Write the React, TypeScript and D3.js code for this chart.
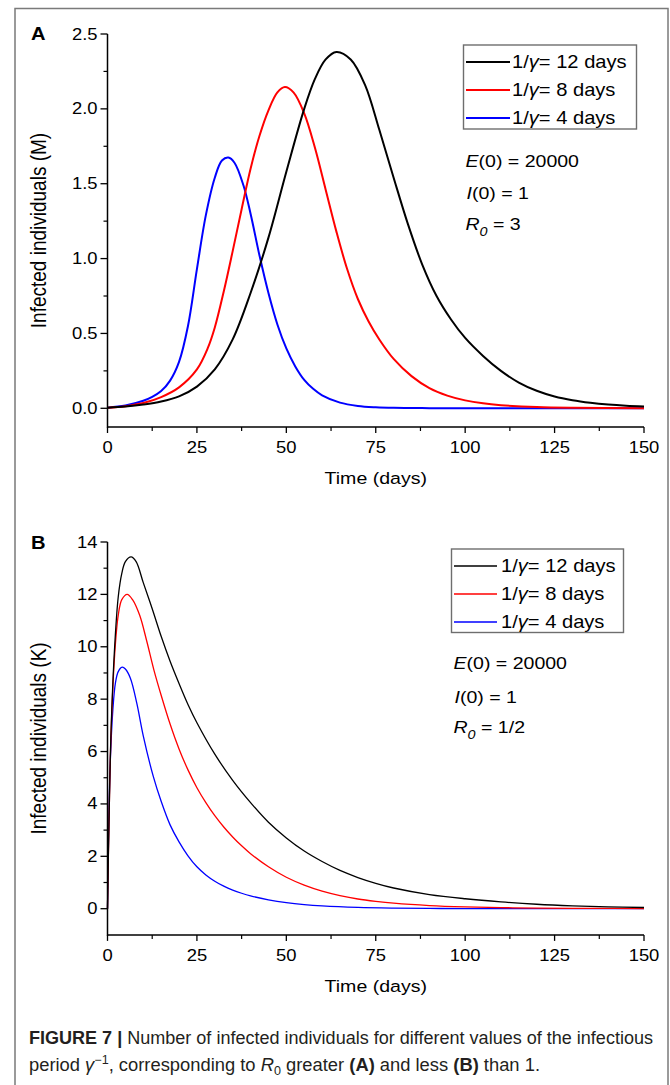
import React from 'react';
import * as d3 from 'd3';

// ---------- data ----------
const legendLabels = ['12', '8', '4'];
const seriesColors = ['#000000', '#ff0000', '#0000ff'];

const xTicks = [0, 25, 50, 75, 100, 125, 150];
const xMinor = [12.5, 37.5, 62.5, 87.5, 112.5, 137.5];
const yTicksA = [0, 0.5, 1.0, 1.5, 2.0, 2.5];
const yMinorA = [0.25, 0.75, 1.25, 1.75, 2.25];
const yTicksB = [0, 2, 4, 6, 8, 10, 12, 14];
const yMinorB = [1, 3, 5, 7, 9, 11, 13];

// Panel A, infected (millions), [day, value]
const a12: [number, number][] = [[0,0.004],[5,0.012],[10,0.025],[15,0.045],[20,0.08],[25,0.145],[30,0.26],[35,0.46],[40,0.77],[45,1.14],[50,1.58],[55,2.00],[58,2.20],[61,2.33],[64,2.38],[68,2.33],[72,2.16],[76,1.86],[80,1.54],[84,1.23],[88,0.96],[92,0.75],[96,0.595],[100,0.47],[105,0.35],[110,0.25],[115,0.172],[120,0.117],[125,0.079],[130,0.054],[135,0.037],[140,0.025],[145,0.017],[150,0.012]];
const a8: [number, number][] = [[0,0.004],[5,0.014],[10,0.035],[15,0.075],[20,0.14],[25,0.26],[28,0.40],[30,0.54],[32.5,0.78],[35,1.05],[37.5,1.33],[40,1.60],[42.5,1.82],[45,1.99],[47.5,2.11],[49.6,2.146],[52,2.11],[55,1.97],[58,1.74],[61,1.46],[64,1.18],[67,0.93],[70,0.73],[73,0.58],[76,0.46],[80,0.33],[85,0.215],[90,0.135],[95,0.085],[100,0.053],[105,0.033],[110,0.021],[120,0.008],[130,0.003],[150,0.0005]];
const a4: [number, number][] = [[0,0.004],[5,0.018],[10,0.05],[12.5,0.076],[15,0.115],[17.5,0.185],[20,0.31],[22.5,0.55],[25,0.93],[27.5,1.29],[30,1.54],[32,1.655],[33.8,1.675],[35.5,1.64],[38,1.49],[40,1.30],[42.5,1.02],[45,0.77],[47.5,0.56],[50,0.40],[52.5,0.28],[55,0.19],[57.5,0.13],[60,0.087],[65,0.038],[70,0.016],[75,0.007],[80,0.003],[90,0.001],[100,0.0003],[150,0]];

// Panel B, infected (thousands), [day, value]
const b12: [number, number][] = [[0,0],[0.4,3.2],[1,6.8],[2,10.0],[3,11.9],[4,12.8],[5,13.25],[6.6,13.43],[8,13.25],[10,12.45],[12.5,11.45],[15,10.4],[17.5,9.45],[20,8.6],[22.5,7.8],[25,7.1],[30,5.9],[35,4.9],[40,4.05],[45,3.3],[50,2.7],[55,2.2],[60,1.8],[65,1.46],[70,1.19],[75,0.97],[80,0.79],[90,0.54],[100,0.38],[110,0.26],[120,0.17],[130,0.11],[140,0.07],[150,0.045]];
const b8: [number, number][] = [[0,0],[0.4,3.2],[1,6.7],[2,9.7],[3,11.2],[4,11.8],[5.5,12.0],[7,11.8],[9,11.2],[11,10.2],[13,9.1],[15,8.15],[17.5,7.05],[20,6.1],[22.5,5.3],[25,4.62],[27.5,4.05],[30,3.55],[32.5,3.12],[35,2.74],[37.5,2.4],[40,2.1],[45,1.6],[50,1.2],[55,0.9],[60,0.67],[65,0.5],[70,0.37],[75,0.28],[80,0.21],[90,0.12],[100,0.07],[110,0.042],[120,0.025],[135,0.012],[150,0.006]];
const b4: [number, number][] = [[0,0],[0.3,2.8],[0.75,5.5],[1.5,7.6],[2.2,8.6],[3,9.05],[4.1,9.22],[5,9.15],[6.4,8.8],[8.2,7.84],[10,6.6],[12.8,5.05],[15,4.1],[17.5,3.2],[20,2.55],[22.5,2.02],[25,1.6],[27.5,1.29],[30,1.05],[32.5,0.86],[35,0.71],[37.5,0.59],[40,0.49],[45,0.34],[50,0.23],[55,0.155],[60,0.105],[70,0.048],[80,0.022],[90,0.01],[100,0.004],[120,0.001],[150,0]];

const seriesA = [a12, a8, a4];
const seriesB = [b12, b8, b4];

// ---------- helpers ----------
const SX = 1.15;
const FONT = "'Liberation Sans', Arial, Helvetica, sans-serif";

function ST(props: any) {
  const { x, y, anchor = 'start', size, weight, fstyle, rotate, children, fill = '#000' } = props;
  const tf = `translate(${x},${y}) scale(${SX},1)` + (rotate ? ` rotate(${rotate})` : '');
  return (
    <text transform={tf} textAnchor={anchor} fontSize={size} fontWeight={weight} fontStyle={fstyle} fill={fill}>
      {children}
    </text>
  );
}

function Panel(props: any) {
  const { x, y, yBottom, yMajor, yMinor, fmt, series, strokeW, letter, letterY, yTitle,
    legend, annot, r0 } = props;
  const line = d3.line<[number, number]>().x(d => x(d[0])).y(d => y(d[1])).curve(d3.curveCatmullRom.alpha(0.5));
  const x0 = x(0), x1 = x(150);
  const yTop = y(yMajor[yMajor.length - 1]);
  return (
    <g>
      {series.map((s: [number, number][], i: number) => (
        <path key={i} d={line(s) || ''} fill="none" stroke={seriesColors[i]} strokeWidth={strokeW} strokeLinejoin="round" />
      )).reverse()}
      <line x1={x0} x2={x1} y1={yBottom} y2={yBottom} stroke="#000" strokeWidth={1.5} />
      <line x1={x0} x2={x0} y1={yBottom + 0.75} y2={yTop} stroke="#000" strokeWidth={1.5} />
      {xTicks.map(t => (
        <g key={'xt' + t}>
          <line x1={x(t)} x2={x(t)} y1={yBottom} y2={yBottom + 6} stroke="#000" strokeWidth={1.3} />
          <ST x={x(t)} y={yBottom + 26} anchor="middle" size={16}>{t}</ST>
        </g>
      ))}
      {xMinor.map(t => (
        <line key={'xm' + t} x1={x(t)} x2={x(t)} y1={yBottom} y2={yBottom + 4} stroke="#000" strokeWidth={1.2} />
      ))}
      {yMajor.map((v: number) => (
        <g key={'yt' + v}>
          <line x1={x0 - 7} x2={x0} y1={y(v)} y2={y(v)} stroke="#000" strokeWidth={1.3} />
          <ST x={x0 - 10} y={y(v) + 5.5} anchor="end" size={16}>{fmt(v)}</ST>
        </g>
      ))}
      {yMinor.map((v: number) => (
        <line key={'ym' + v} x1={x0 - 4} x2={x0} y1={y(v)} y2={y(v)} stroke="#000" strokeWidth={1.2} />
      ))}
      <ST x={(x0 + x1) / 2} y={yBottom + 57} anchor="middle" size={17}>Time (days)</ST>
      <ST x={46} y={(yBottom + yTop) / 2} anchor="middle" size={19} rotate={-90}>{yTitle}</ST>
      <ST x={31} y={letterY} size={17.5} weight="bold">{letter}</ST>
      <rect x={legend.x} y={legend.y} width={legend.w} height={legend.h} fill="#fff" stroke="#6e6e6e" strokeWidth={1.4} />
      {legendLabels.map((lab, i) => {
        const cy = legend.y + legend.r0 + i * legend.dy;
        return (
          <g key={'lg' + i}>
            <line x1={legend.lx0} x2={legend.lx1} y1={cy} y2={cy} stroke={seriesColors[i]} strokeWidth={strokeW} />
            <ST x={legend.tx} y={cy + 6.3} size={17.5}>
              1/<tspan fontStyle="italic">γ</tspan>= {lab} days
            </ST>
          </g>
        );
      })}
      <ST x={annot.x} y={annot.y0} size={17}><tspan fontStyle="italic">E</tspan>(0) = 20000</ST>
      <ST x={annot.x + 1} y={annot.y1} size={17}><tspan fontStyle="italic">I</tspan>(0) = 1</ST>
      <ST x={annot.x} y={annot.y2} size={17}>
        <tspan fontStyle="italic">R</tspan>
        <tspan fontStyle="italic" fontSize={12.5} dy={6}>0</tspan>
        <tspan dy={-6}> = {r0}</tspan>
      </ST>
    </g>
  );
}

export default function App() {
  const xA = d3.scaleLinear().domain([0, 150]).range([107.5, 644]);
  const yA = d3.scaleLinear().domain([0, 2.5]).range([408.3, 34]);
  const xB = d3.scaleLinear().domain([0, 150]).range([107.5, 644]);
  const yB = d3.scaleLinear().domain([0, 14]).range([908.7, 542]);
  const fmtA = d3.format('.1f');
  const fmtB = d3.format('d');

  return (
    <svg width={670} height={1085} viewBox="0 0 670 1085"
      style={{ position: 'absolute', left: 0, top: 0, display: 'block', background: '#fff' }}
      fontFamily={FONT}>
      <rect x={0} y={0} width={670} height={1085} fill="#fff" />
      <rect x={15} y={8.5} width={653} height={1090} fill="none" stroke="#7a7a7a" strokeWidth={1.5} />

      <Panel x={xA} y={yA} yBottom={yA(-0.125)} yMajor={yTicksA} yMinor={yMinorA} fmt={fmtA}
        series={seriesA} strokeW={2} letter="A" letterY={40}
        yTitle="Infected individuals (M)"
        legend={{ x: 463.5, y: 45, w: 173, h: 84, r0: 17, dy: 28, lx0: 466, lx1: 510, tx: 512 }}
        annot={{ x: 465.5, y0: 166.5, y1: 199, y2: 230 }} r0="3" />

      <Panel x={xB} y={yB} yBottom={yB(-1)} yMajor={yTicksB} yMinor={yMinorB} fmt={fmtB}
        series={seriesB} strokeW={1.3} letter="B" letterY={549}
        yTitle="Infected individuals (K)"
        legend={{ x: 451.5, y: 549, w: 172, h: 83.5, r0: 17, dy: 28, lx0: 454, lx1: 497, tx: 501 }}
        annot={{ x: 453.5, y0: 669, y1: 703, y2: 733 }} r0="1/2" />

      <text x={29} y={1044} fontSize={17.5} fill="#231f20" textLength={624} lengthAdjust="spacingAndGlyphs">
        <tspan fontWeight="bold">FIGURE 7 | </tspan>Number of infected individuals for different values of the infectious
      </text>
      <text x={29} y={1071} fontSize={17.5} fill="#231f20" textLength={511} lengthAdjust="spacingAndGlyphs">
        period <tspan fontStyle="italic">γ</tspan><tspan fontSize={12} dy={-7}>−1</tspan><tspan dy={7}>, corresponding to </tspan><tspan fontStyle="italic">R</tspan><tspan fontSize={12} dy={4}>0</tspan><tspan dy={-4}> greater </tspan><tspan fontWeight="bold">(A)</tspan> and less <tspan fontWeight="bold">(B)</tspan> than 1.
      </text>
    </svg>
  );
}
